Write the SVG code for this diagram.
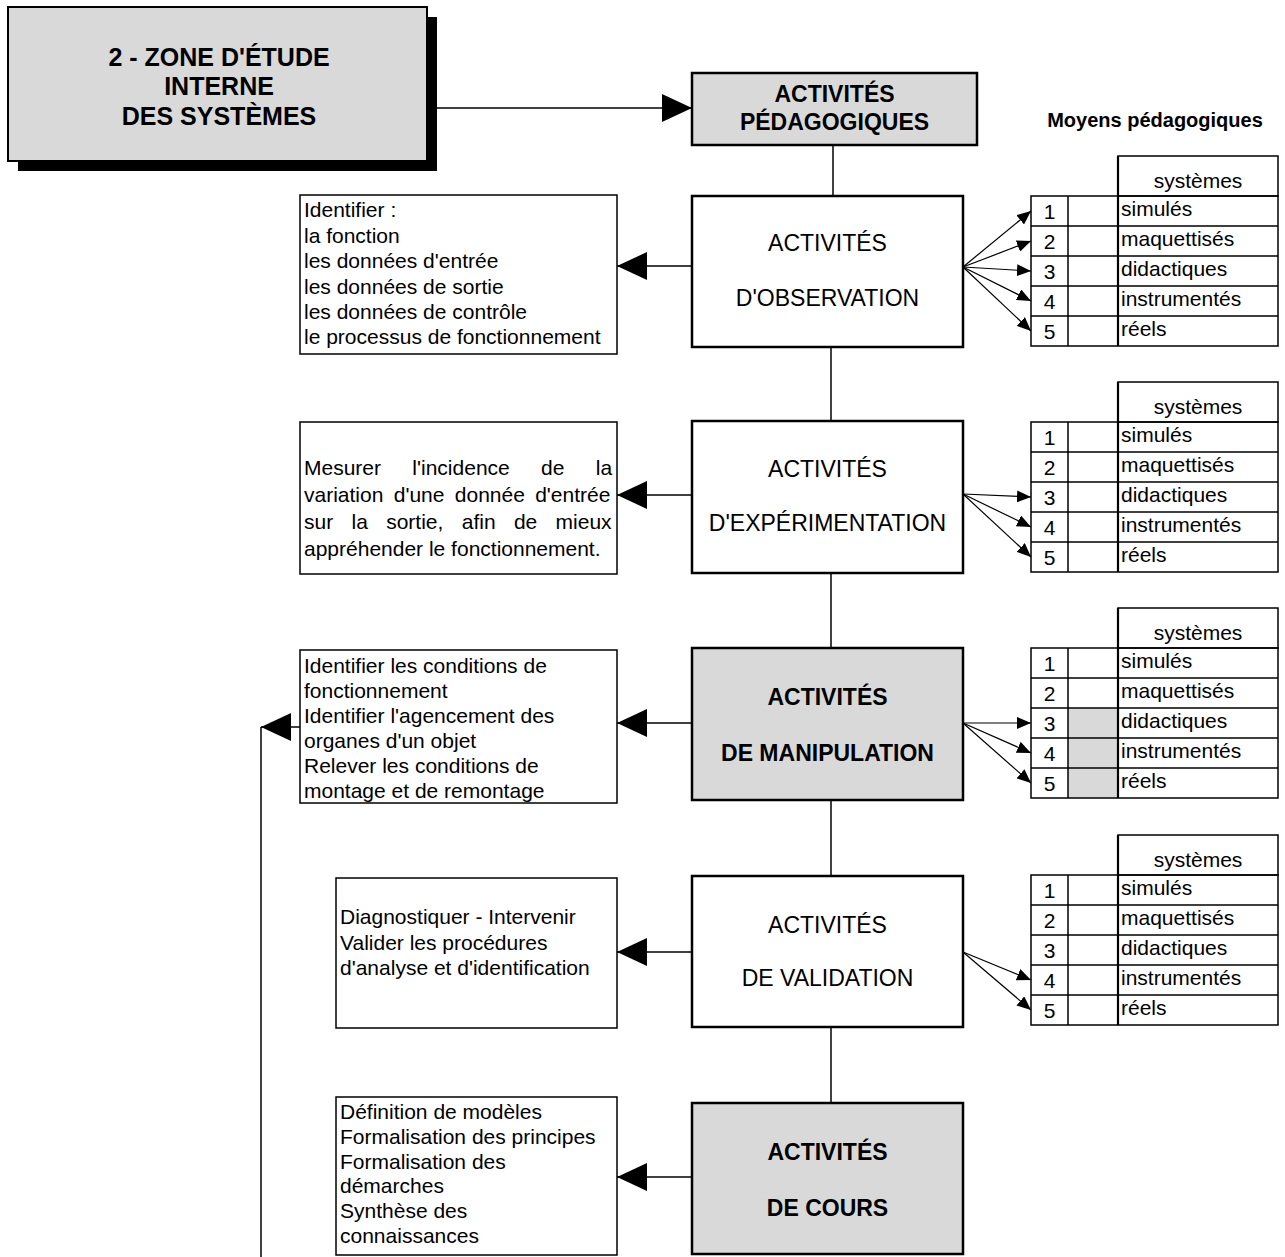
<svg xmlns="http://www.w3.org/2000/svg" width="1285" height="1257" viewBox="0 0 1285 1257">
<defs>
<style>
.t{font-family:"Liberation Sans",Arial,sans-serif;fill:#000}
.box{fill:#fff;stroke:#000;stroke-width:2.5}
.gbox{fill:#d9d9d9;stroke:#000;stroke-width:2.5}
.tbox{fill:#fff;stroke:#000;stroke-width:1.5}
.h{font-size:23px;font-weight:bold;text-anchor:middle}
.c{font-size:23px;text-anchor:middle}
.l{font-size:21px}
.tb{font-size:21px}
.mid{text-anchor:middle}
.grid{fill:none;stroke:#000;stroke-width:1.5}
.thick{stroke:#000;stroke-width:2.2}
.conn{stroke:#000;stroke-width:1.5;fill:none}
.fan{stroke:#000;stroke-width:1.2;fill:none}
.shade{fill:#d9d9d9}
</style>
<marker id="big" markerUnits="userSpaceOnUse" markerWidth="30" markerHeight="28" refX="30" refY="14" orient="auto"><path d="M0,0 L30,14 L0,28 z" fill="#000"/></marker>
<marker id="small" markerUnits="userSpaceOnUse" markerWidth="14" markerHeight="12" refX="14" refY="6" orient="auto"><path d="M0,0 L14,6 L0,12 z" fill="#000"/></marker>
</defs>
<rect width="1285" height="1257" fill="#fff"/>

<g id="title">
<rect x="18" y="17" width="419" height="154" fill="#000"/>
<rect x="8" y="7" width="419" height="154" fill="#d9d9d9" stroke="#000" stroke-width="2"/>
<text class="t h" style="font-size:25px" x="219" y="66">2 - ZONE D'ÉTUDE</text>
<text class="t h" style="font-size:25px" x="219" y="95">INTERNE</text>
<text class="t h" style="font-size:25px" x="219" y="125">DES SYSTÈMES</text>
</g>

<g id="pedagogiques">
<rect class="gbox" x="692" y="73" width="285" height="72"/>
<text class="t h" x="834.5" y="102">ACTIVITÉS</text>
<text class="t h" x="834.5" y="130">PÉDAGOGIQUES</text>
</g>

<g id="moyens">
<text class="t" style="font-size:20px;font-weight:bold;text-anchor:middle" x="1155" y="127">Moyens pédagogiques</text>
</g>

<g id="observation">
<rect class="box" x="692" y="196" width="271" height="151"/>
<text class="t c" x="827.5" y="251">ACTIVITÉS</text>
<text class="t c" x="827.5" y="306">D'OBSERVATION</text>
</g>
<g id="experimentation">
<rect class="box" x="692" y="421" width="271" height="152"/>
<text class="t c" x="827.5" y="477">ACTIVITÉS</text>
<text class="t c" x="827.5" y="531">D'EXPÉRIMENTATION</text>
</g>
<g id="manipulation">
<rect class="gbox" x="692" y="648" width="271" height="152"/>
<text class="t h" x="827.5" y="705">ACTIVITÉS</text>
<text class="t h" x="827.5" y="761">DE MANIPULATION</text>
</g>
<g id="validation">
<rect class="box" x="692" y="876" width="271" height="151"/>
<text class="t c" x="827.5" y="933">ACTIVITÉS</text>
<text class="t c" x="827.5" y="986">DE VALIDATION</text>
</g>
<g id="cours">
<rect class="gbox" x="692" y="1103" width="271" height="151"/>
<text class="t h" x="827.5" y="1160">ACTIVITÉS</text>
<text class="t h" x="827.5" y="1216">DE COURS</text>
</g>

<g id="txt-observation">
<rect class="tbox" x="300" y="195" width="317" height="159"/>
<text class="t l" x="304" y="217">Identifier :</text>
<text class="t l" x="304" y="243">la fonction</text>
<text class="t l" x="304" y="268">les données d'entrée</text>
<text class="t l" x="304" y="294">les données de sortie</text>
<text class="t l" x="304" y="319">les données de contrôle</text>
<text class="t l" x="304" y="344">le processus de fonctionnement</text>
</g>
<g id="txt-experimentation">
<rect class="tbox" x="300" y="422" width="317" height="152"/>
<text class="t l" x="304" y="475" word-spacing="25.5">Mesurer l'incidence de la</text>
<text class="t l" x="304" y="502" word-spacing="4.5">variation d'une donnée d'entrée</text>
<text class="t l" x="304" y="529" word-spacing="12.5">sur la sortie, afin de mieux</text>
<text class="t l" x="304" y="556">appréhender le fonctionnement.</text>
</g>
<g id="txt-manipulation">
<rect class="tbox" x="300" y="650" width="317" height="153"/>
<text class="t l" x="304" y="673">Identifier les conditions de</text>
<text class="t l" x="304" y="698">fonctionnement</text>
<text class="t l" x="304" y="723">Identifier l'agencement des</text>
<text class="t l" x="304" y="748">organes d'un objet</text>
<text class="t l" x="304" y="773">Relever les conditions de</text>
<text class="t l" x="304" y="798">montage et de remontage</text>
</g>
<g id="txt-validation">
<rect class="tbox" x="336" y="878" width="281" height="150"/>
<text class="t l" x="340" y="924">Diagnostiquer - Intervenir</text>
<text class="t l" x="340" y="950">Valider les procédures</text>
<text class="t l" x="340" y="975">d'analyse et d'identification</text>
</g>
<g id="txt-cours">
<rect class="tbox" x="336" y="1097" width="281" height="158"/>
<text class="t l" x="340" y="1119">Définition de modèles</text>
<text class="t l" x="340" y="1144">Formalisation des principes</text>
<text class="t l" x="340" y="1169">Formalisation des</text>
<text class="t l" x="340" y="1193">démarches</text>
<text class="t l" x="340" y="1218">Synthèse des</text>
<text class="t l" x="340" y="1243">connaissances</text>
</g>

<g id="table-observation">
<rect class="grid" x="1118" y="156" width="160" height="40"/>
<rect class="grid" x="1031" y="196" width="247" height="150"/>
<path class="grid" d="M1031,226H1278M1031,256H1278M1031,286H1278M1031,316H1278M1068,196V346"/>
<path class="thick" d="M1118,156V346"/>
<text class="t tb mid" x="1198" y="188">systèmes</text>
<text class="t tb mid" x="1049.5" y="219">1</text><text class="t tb" x="1121" y="216">simulés</text>
<text class="t tb mid" x="1049.5" y="249">2</text><text class="t tb" x="1121" y="246">maquettisés</text>
<text class="t tb mid" x="1049.5" y="279">3</text><text class="t tb" x="1121" y="276">didactiques</text>
<text class="t tb mid" x="1049.5" y="309">4</text><text class="t tb" x="1121" y="306">instrumentés</text>
<text class="t tb mid" x="1049.5" y="339">5</text><text class="t tb" x="1121" y="336">réels</text>
</g>

<g id="table-experimentation">
<rect class="grid" x="1118" y="382" width="160" height="40"/>
<rect class="grid" x="1031" y="422" width="247" height="150"/>
<path class="grid" d="M1031,452H1278M1031,482H1278M1031,512H1278M1031,542H1278M1068,422V572"/>
<path class="thick" d="M1118,382V572"/>
<text class="t tb mid" x="1198" y="414">systèmes</text>
<text class="t tb mid" x="1049.5" y="445">1</text><text class="t tb" x="1121" y="442">simulés</text>
<text class="t tb mid" x="1049.5" y="475">2</text><text class="t tb" x="1121" y="472">maquettisés</text>
<text class="t tb mid" x="1049.5" y="505">3</text><text class="t tb" x="1121" y="502">didactiques</text>
<text class="t tb mid" x="1049.5" y="535">4</text><text class="t tb" x="1121" y="532">instrumentés</text>
<text class="t tb mid" x="1049.5" y="565">5</text><text class="t tb" x="1121" y="562">réels</text>
</g>

<g id="table-manipulation">
<rect class="shade" x="1068" y="708" width="50" height="90"/>
<rect class="grid" x="1118" y="608" width="160" height="40"/>
<rect class="grid" x="1031" y="648" width="247" height="150"/>
<path class="grid" d="M1031,678H1278M1031,708H1278M1031,738H1278M1031,768H1278M1068,648V798"/>
<path class="thick" d="M1118,608V798"/>
<text class="t tb mid" x="1198" y="640">systèmes</text>
<text class="t tb mid" x="1049.5" y="671">1</text><text class="t tb" x="1121" y="668">simulés</text>
<text class="t tb mid" x="1049.5" y="701">2</text><text class="t tb" x="1121" y="698">maquettisés</text>
<text class="t tb mid" x="1049.5" y="731">3</text><text class="t tb" x="1121" y="728">didactiques</text>
<text class="t tb mid" x="1049.5" y="761">4</text><text class="t tb" x="1121" y="758">instrumentés</text>
<text class="t tb mid" x="1049.5" y="791">5</text><text class="t tb" x="1121" y="788">réels</text>
</g>

<g id="table-validation">
<rect class="grid" x="1118" y="835" width="160" height="40"/>
<rect class="grid" x="1031" y="875" width="247" height="150"/>
<path class="grid" d="M1031,905H1278M1031,935H1278M1031,965H1278M1031,995H1278M1068,875V1025"/>
<path class="thick" d="M1118,835V1025"/>
<text class="t tb mid" x="1198" y="867">systèmes</text>
<text class="t tb mid" x="1049.5" y="898">1</text><text class="t tb" x="1121" y="895">simulés</text>
<text class="t tb mid" x="1049.5" y="928">2</text><text class="t tb" x="1121" y="925">maquettisés</text>
<text class="t tb mid" x="1049.5" y="958">3</text><text class="t tb" x="1121" y="955">didactiques</text>
<text class="t tb mid" x="1049.5" y="988">4</text><text class="t tb" x="1121" y="985">instrumentés</text>
<text class="t tb mid" x="1049.5" y="1018">5</text><text class="t tb" x="1121" y="1015">réels</text>
</g>

<g id="connectors">
<line class="conn" x1="427" y1="108" x2="692" y2="108" marker-end="url(#big)"/>
<line class="conn" x1="833" y1="145" x2="833" y2="196"/>
<line class="conn" x1="831" y1="347" x2="831" y2="421"/>
<line class="conn" x1="831" y1="573" x2="831" y2="648"/>
<line class="conn" x1="831" y1="800" x2="831" y2="876"/>
<line class="conn" x1="831" y1="1027" x2="831" y2="1103"/>
<line class="conn" x1="692" y1="266" x2="617" y2="266" marker-end="url(#big)"/>
<line class="conn" x1="692" y1="495" x2="617" y2="495" marker-end="url(#big)"/>
<line class="conn" x1="692" y1="723" x2="617" y2="723" marker-end="url(#big)"/>
<line class="conn" x1="692" y1="952" x2="617" y2="952" marker-end="url(#big)"/>
<line class="conn" x1="692" y1="1177" x2="617" y2="1177" marker-end="url(#big)"/>
<line class="conn" x1="300" y1="727" x2="261" y2="727" marker-end="url(#big)"/>
<line class="conn" x1="261" y1="727" x2="261" y2="1257"/>
<line class="fan" x1="963" y1="267" x2="1031" y2="211" marker-end="url(#small)"/>
<line class="fan" x1="963" y1="267" x2="1031" y2="241" marker-end="url(#small)"/>
<line class="fan" x1="963" y1="267" x2="1031" y2="271" marker-end="url(#small)"/>
<line class="fan" x1="963" y1="267" x2="1031" y2="301" marker-end="url(#small)"/>
<line class="fan" x1="963" y1="267" x2="1031" y2="331" marker-end="url(#small)"/>
<line class="fan" x1="963" y1="494" x2="1031" y2="497" marker-end="url(#small)"/>
<line class="fan" x1="963" y1="494" x2="1031" y2="527" marker-end="url(#small)"/>
<line class="fan" x1="963" y1="494" x2="1031" y2="557" marker-end="url(#small)"/>
<line class="fan" x1="963" y1="723" x2="1031" y2="723" marker-end="url(#small)"/>
<line class="fan" x1="963" y1="723" x2="1031" y2="753" marker-end="url(#small)"/>
<line class="fan" x1="963" y1="723" x2="1031" y2="783" marker-end="url(#small)"/>
<line class="fan" x1="963" y1="952" x2="1031" y2="980" marker-end="url(#small)"/>
<line class="fan" x1="963" y1="952" x2="1031" y2="1010" marker-end="url(#small)"/>
</g>
</svg>
